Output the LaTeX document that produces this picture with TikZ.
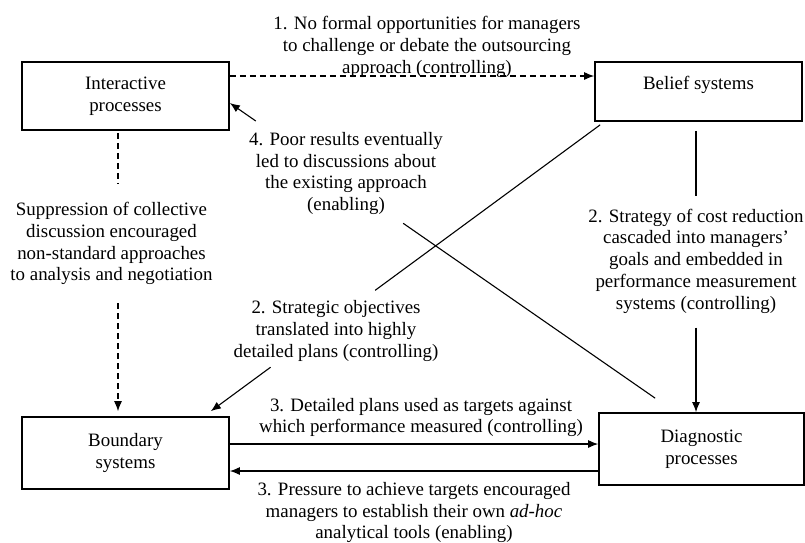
\documentclass[tikz,border=0pt]{standalone}
\usepackage{fontspec}
\setmainfont{Liberation Serif}
\usetikzlibrary{arrows.meta,calc}
\begin{document}
\begin{tikzpicture}[x=1pt,y=-1pt,
  every node/.style={font=\fontsize{18.9}{21.8}\selectfont, inner sep=0pt},
  box/.style={draw, line width=1.7pt, minimum width=207pt, align=center},
  lab/.style={align=center},
  conn/.style={line width=1.1pt},
  tip/.style={-{Latex[length=10pt,width=8pt]}},
  dsh/.style={dash pattern=on 6pt off 4pt}
]
\useasboundingbox (0,0) rectangle (805,542);

% boxes
\node[box, minimum height=68pt] (inter) at (125.5,96) {Interactive\\processes};
\node[box, minimum height=59pt, text height=13pt, text depth=18pt] (belief) at (698.5,91.5) {Belief systems};
\node[box, minimum height=72pt] (bound) at (125.5,453) {Boundary\\systems};
\node[box, minimum width=205pt, minimum height=72pt] (diag) at (701.5,449) {Diagnostic\\processes};

% labels
\node[lab] (l1) at (427,47) {1. No formal opportunities for managers\\to challenge or debate the outsourcing\\approach (controlling)};
\node[lab] (l4) at (346,173.5) {4. Poor results eventually\\led to discussions about\\the existing approach\\(enabling)};
\node[lab] (l2r) at (696,261) {2. Strategy of cost reduction\\cascaded into managers’\\goals and embedded in\\performance measurement\\systems (controlling)};
\node[lab] (lsup) at (111.5,243.5) {Suppression of collective\\discussion encouraged\\non-standard approaches\\to analysis and negotiation};
\node[lab] (l2s) at (336,331) {2. Strategic objectives\\translated into highly\\detailed plans (controlling)};
\node[lab] (l3t) at (421,417.5) {3. Detailed plans used as targets against\\which performance measured (controlling)};
\node[lab] (l3b) at (414,512.5) {3. Pressure to achieve targets encouraged\\managers to establish their own \textit{ad-hoc}\\analytical tools (enabling)};

% helper coordinates
\coordinate (y76) at (0,76);
\coordinate (y103) at (0,103);
\coordinate (h1) at (0,444);
\coordinate (h2) at (0,471);
\coordinate (dx) at (118,0);

% 1: interactive -> belief (dashed)
\draw[conn,dsh,tip] (inter.east |- y76) -- (belief.west |- y76);

% 4: diagnostic -> interactive
\coordinate (p4a) at ($(diag.north west)+(57,-14)$);
\coordinate (p4q) at (inter.east |- y103);
\draw[conn] (p4a) -- ($(p4a)!0.5925!(p4q)$);
\draw[conn,tip] ($(p4a)!0.939!(p4q)$) -- (p4q);

% 2: belief -> boundary
\coordinate (p2a) at ($(belief.south west)+(6,3)$);
\coordinate (p2b) at ($(bound.north east)+(-19,-5)$);
\draw[conn] (p2a) -- ($(p2a)!0.578!(p2b)$);
\draw[conn,tip] ($(p2a)!0.8465!(p2b)$) -- (p2b);

% 2: belief -> diagnostic
\draw[conn] ($(belief.south -| l2r.north)+(0,9)$) -- ($(l2r.north)+(0,-13)$);
\draw[conn,tip] ($(l2r.south)+(0,14)$) -- (l2r.south |- diag.north);

% interactive -> boundary (dashed)
\draw[conn,dsh] ($(inter.south -| dx)+(0,2)$) -- ($(lsup.north -| dx)+(0,-18)$);
\draw[conn,dsh,tip] ($(lsup.south -| dx)+(0,18)$) -- ($(bound.north -| dx)+(0,-5)$);

% 3: boundary <-> diagnostic
\draw[conn,tip] (bound.east |- h1) -- (diag.west |- h1);
\draw[conn,tip] (diag.west |- h2) -- (bound.east |- h2);
\end{tikzpicture}
\end{document}
